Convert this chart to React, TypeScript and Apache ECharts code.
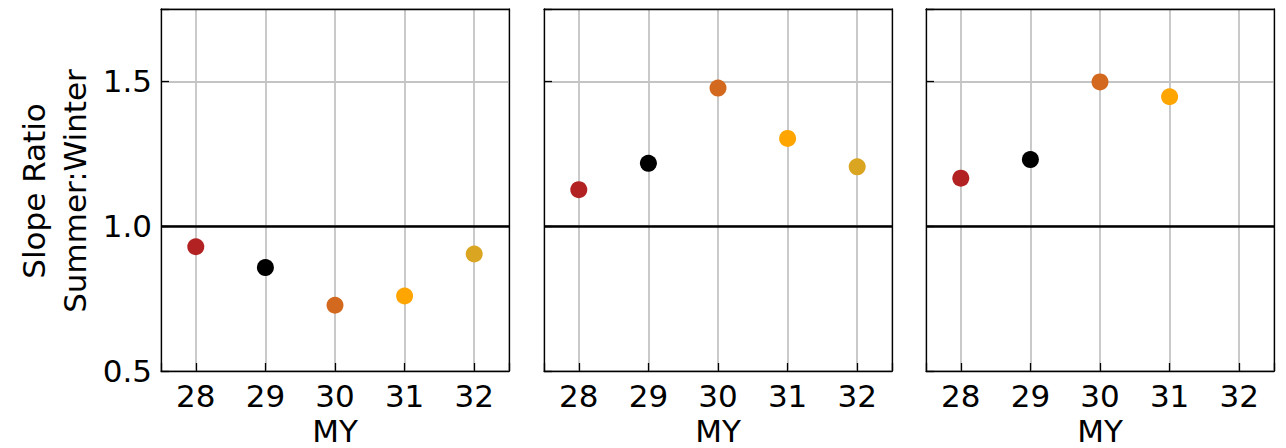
import React, { useEffect, useRef } from "react";
import * as echarts from "echarts";

const years = [28, 29, 30, 31, 32];
const yearColors = ["#b22222", "#000000", "#d2691e", "#ffa500", "#daa520"];
const panel1Values = [0.929, 0.857, 0.727, 0.759, 0.904];
const panel2Values = [1.126, 1.217, 1.477, 1.303, 1.205];
const panel3Values = [1.166, 1.23, 1.498, 1.447];
const yTicks = [0.5, 1.0, 1.5];
const panels = [panel1Values, panel2Values, panel3Values];

const FONT = "DejaVu Sans";
const gridLefts = [153, 536, 918];
const gridWidth = 348;

export default function App() {
  const ref = useRef<HTMLDivElement>(null);
  useEffect(() => {
    if (!ref.current) return;
    const chart = echarts.init(ref.current, undefined, { renderer: "svg" });
    const grids = gridLefts.map((l) => ({
      left: l,
      top: 1,
      width: gridWidth,
      height: 362,
      outerBoundsMode: "none",
      containLabel: false,
    }));
    const xAxes: any[] = [];
    const yAxes: any[] = [];
    panels.forEach((_, i) => {
      xAxes.push({
        type: "value",
        gridIndex: i,
        min: 27.5,
        max: 32.5,
        splitNumber: 5,
        name: "MY",
        nameLocation: "middle",
        nameGap: 47,
        nameTextStyle: { fontFamily: FONT, fontSize: 31, lineHeight: 24, color: "#000" },
        axisLine: { show: true, lineStyle: { color: "#000", width: 1.3 } },
        axisTick: { show: true, inside: true, length: 8, lineStyle: { color: "#000", width: 1.3 } },
        axisLabel: {
          margin: 9,
          fontFamily: FONT,
          fontSize: 31,
          color: "#000",
          formatter: (v: number) => (years.includes(v) ? String(v) : ""),
        },
        splitLine: { show: true, lineStyle: { color: "#c4c4c4", width: 1.8 } },
      });
      yAxes.push({
        type: "value",
        gridIndex: i,
        min: 0.5,
        max: 1.75,
        interval: 0.5,
        axisLine: { show: true, lineStyle: { color: "#000", width: 1.3 } },
        axisTick: { show: true, inside: true, length: 8, lineStyle: { color: "#000", width: 1.3 } },
        axisLabel: {
          show: i === 0,
          margin: 9,
          fontFamily: FONT,
          fontSize: 31,
          color: "#000",
          formatter: (v: number) => (yTicks.includes(v) ? v.toFixed(1) : ""),
        },
        splitLine: { show: true, lineStyle: { color: "#c4c4c4", width: 1.8 } },
      });
    });
    // frame: top and right lines
    panels.forEach((_, i) => {
      xAxes.push({
        type: "value",
        gridIndex: i,
        position: "top",
        min: 27.5,
        max: 32.5,
        axisLine: { show: true, onZero: false, lineStyle: { color: "#000", width: 1.3 } },
        axisTick: { show: false },
        axisLabel: { show: false },
        splitLine: { show: false },
      });
      yAxes.push({
        type: "value",
        gridIndex: i,
        position: "right",
        min: 0.5,
        max: 1.75,
        interval: 0.5,
        axisLine: { show: true, onZero: false, lineStyle: { color: "#000", width: 1.3 } },
        axisTick: { show: false },
        axisLabel: { show: false },
        splitLine: { show: false },
      });
    });
    const series = panels.map((vals, i) => ({
      type: "scatter",
      xAxisIndex: i,
      yAxisIndex: i,
      symbolSize: 17,
      z: 3,
      itemStyle: { opacity: 1 },
      data: vals.map((v, j) => ({
        value: [years[j], v],
        itemStyle: { color: yearColors[j], opacity: 1 },
      })),
      markLine: {
        silent: true,
        symbol: "none",
        z: 2,
        label: { show: false },
        lineStyle: { color: "#000", width: 2.6, type: "solid", opacity: 1 },
        data: [{ yAxis: 1.0 }],
      },
    }));
    chart.setOption({
      animation: false,
      grid: grids,
      xAxis: xAxes,
      yAxis: yAxes,
      series,
      graphic: [
        {
          type: "text",
          x: 26,
          y: 183,
          rotation: Math.PI / 2,
          style: {
            text: "Slope Ratio",
            fontFamily: FONT,
            fontSize: 31,
            fill: "#000",
            align: "center",
            verticalAlign: "middle",
          },
        },
        {
          type: "text",
          x: 67,
          y: 183,
          rotation: Math.PI / 2,
          style: {
            text: "Summer:Winter",
            fontFamily: FONT,
            fontSize: 31,
            fill: "#000",
            align: "center",
            verticalAlign: "middle",
          },
        },
      ],
    });
    return () => chart.dispose();
  }, []);
  return <div ref={ref} style={{ width: 1278, height: 440 }} />;
}
